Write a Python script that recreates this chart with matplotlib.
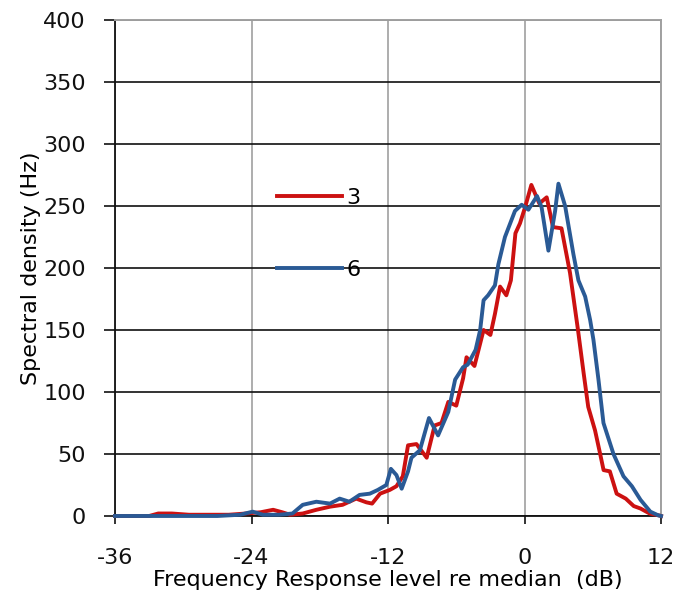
import matplotlib
matplotlib.use("Agg")
import matplotlib.pyplot as plt

# Spectral density vs. frequency response level, two conditions
level_3 = [-36, -33, -32.2, -31, -29.5, -28, -26, -24.5, -23.2, -22.1, -21.3, -20.6,
           -19.5, -18.3, -17.1, -16.0, -14.8, -13.9, -13.4, -12.7, -11.85, -11.26,
           -10.7, -10.24, -9.5, -8.6, -7.9, -7.3, -6.7, -6.0, -5.4, -5.1, -4.4, -3.6,
           -3.0, -2.6, -2.15, -1.6, -1.2, -0.8, -0.4, 0.05, 0.6, 1.3, 1.95, 2.5, 3.25,
           4.0, 4.7, 5.2, 5.6, 6.2, 6.65, 6.95, 7.5, 8.1, 8.9, 9.6, 10.2, 11.0, 11.8, 12]
density_3 = [0, 0, 2, 2, 1, 1, 1, 2, 3, 5, 3, 1,
             2, 5, 7.5, 9, 14, 11, 10, 18, 21, 24,
             32, 57, 58, 47, 73, 75, 92, 89, 111, 128, 121, 150,
             146, 163, 185, 178, 190, 228, 236, 249, 267, 252, 257, 233, 232,
             196, 150, 115, 88, 69, 50, 37, 36, 18, 14, 8, 6, 2, 0.5, 0]

level_6 = [-36, -27, -25, -23.9, -23, -21.6, -20.4, -19.5, -18.3, -17.1, -16.25,
           -15.4, -14.5, -13.6, -12.9, -12.15, -11.75, -11.26, -10.8, -10.24, -9.94,
           -9.2, -8.4, -7.6, -6.7, -6.1, -5.4, -5.0, -4.3, -3.9, -3.6, -3.2, -2.6,
           -2.3, -1.72, -0.84, -0.25, 0.34, 1.1, 1.5, 2.1, 2.69, 2.98, 3.57, 4.3,
           4.74, 5.33, 5.77, 6.06, 6.5, 6.94, 7.82, 8.7, 9.44, 10.2, 11.06, 11.76, 12]
density_6 = [0, 0, 1, 3.5, 1, 1, 2, 9, 11.5, 10, 14,
             11.5, 17, 18, 21, 25, 38, 33, 22, 36, 47,
             53, 79, 65, 84, 110, 120, 122, 134, 150, 174, 178, 186,
             203, 225, 246, 251, 247, 258, 249, 214, 246, 268, 250, 211,
             190, 177, 158, 142, 110, 75, 50, 32, 24, 13, 3.5, 0.5, 0]

series_labels = ["3", "6"]
series_colors = ["#CC1111", "#2A5A95"]

x_ticks = [-36, -24, -12, 0, 12]
y_ticks = [0, 50, 100, 150, 200, 250, 300, 350, 400]

plt.rcParams["font.family"] = ["DejaVu Sans"]
plt.rcParams["axes.unicode_minus"] = False

fig = plt.figure(figsize=(6.77, 5.97), dpi=100)
ax = fig.add_axes([0.1699, 0.1357, 0.8065, 0.8308])

for xs, ys, lab, col in zip([level_3, level_6], [density_3, density_6],
                            series_labels, series_colors):
    ax.plot(xs, ys, color=col, lw=2.8, label=lab, solid_joinstyle="round",
            clip_on=False, zorder=3)

ax.set_xlim(-36, 12)
ax.set_ylim(0, 400)
ax.set_xticks(x_ticks)
ax.set_yticks(y_ticks)

ax.set_axisbelow(True)
ax.yaxis.grid(True, color="#111111", lw=1.2)
ax.xaxis.grid(True, color="#A0A0A0", lw=1.2)

for side in ("top", "right"):
    ax.spines[side].set_color("#A0A0A0")
    ax.spines[side].set_linewidth(1.4)
for side in ("left", "bottom"):
    ax.spines[side].set_color("#111111")
    ax.spines[side].set_linewidth(1.3)

ax.tick_params(axis="y", direction="out", length=8, width=1.2, pad=13,
               labelsize=16, colors="#111111")
ax.tick_params(axis="x", direction="out", length=6, width=1.2, pad=17,
               labelsize=16, colors="#111111")

ax.set_xlabel("Frequency Response level re median  (dB)", fontsize=16)
ax.set_ylabel("Spectral density (Hz)", fontsize=16)
ax.xaxis.set_label_coords(0.5, -0.109)
ax.yaxis.set_label_coords(-0.135, 0.5)

ax.legend(loc="upper left", bbox_to_anchor=(276.7 / 677, (597 - 188) / 597),
          bbox_transform=fig.transFigure, frameon=False, fontsize=16,
          handlelength=2.93, handletextpad=0.2, labelspacing=2.34,
          borderpad=0, borderaxespad=0)

fig.savefig("out.png", dpi=100)
